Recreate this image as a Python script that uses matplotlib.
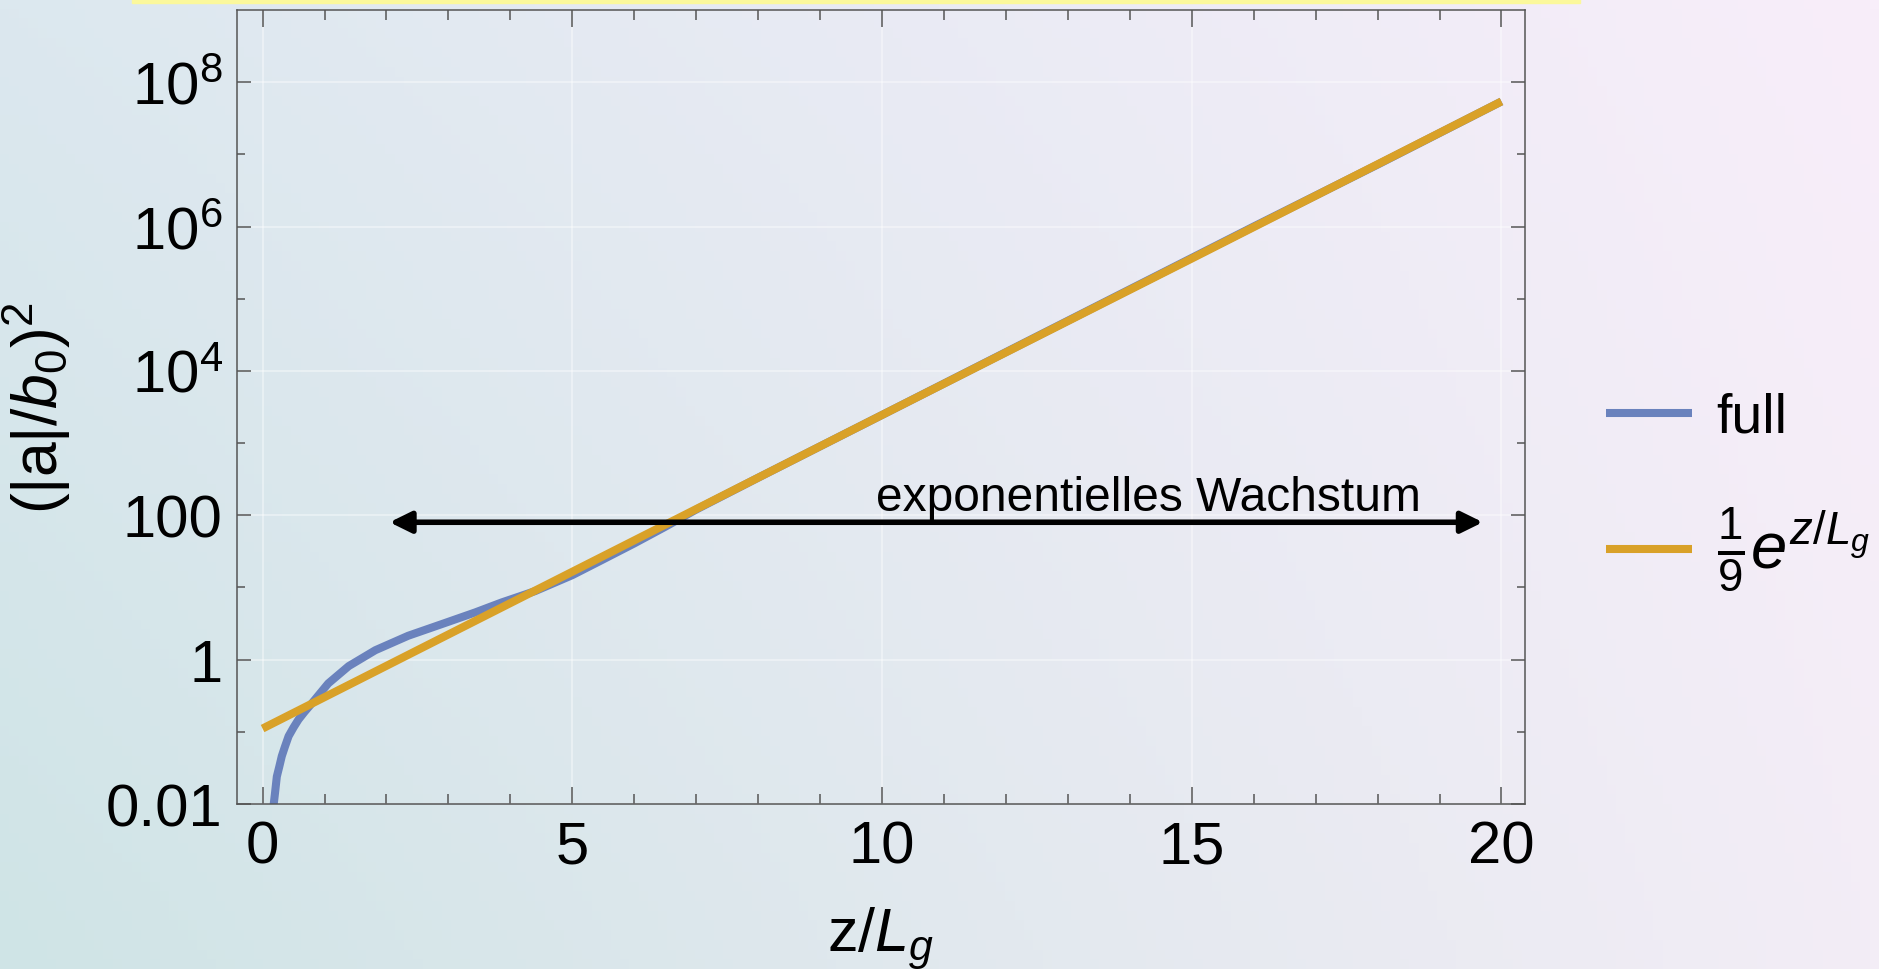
import numpy as np
import matplotlib
matplotlib.use("Agg")
from matplotlib import pyplot as plt
from matplotlib.patches import Rectangle
from matplotlib.ticker import FixedLocator, FixedFormatter

# data
full_z = [0.14, 0.18, 0.20, 0.23, 0.27, 0.31, 0.36, 0.42, 0.50, 0.58, 0.68, 0.80,
          1.06, 1.39, 1.82, 2.35, 2.89, 3.43, 3.86, 4.40, 5.0, 5.5, 6.0, 6.5, 7.0,
          8.0, 10.0, 12.0, 14.0, 16.0, 18.0, 20.0]
full_val = [0.004, 0.010, 0.014, 0.024, 0.033, 0.046, 0.062, 0.087, 0.115, 0.148,
            0.19, 0.251, 0.468, 0.813, 1.35, 2.14, 3.1, 4.5, 6.2, 8.9, 14.8, 24.5,
            40.7, 69.2, 120, 331, 2450, 1.82e4, 1.35e5, 1.0e6, 7.2e6, 5.4e7]

approx_z = [0, 5, 10, 15, 20]
approx_val = [0.111, 16.5, 2450, 3.6e5, 5.4e7]

x_major = [0, 5, 10, 15, 20]
x_labels = ["0", "5", "10", "15", "20"]
y_major = [1e-2, 1, 1e2, 1e4, 1e6, 1e8]
y_labels = ["0.01", "1", "100", "$10^4$", "$10^6$", "$10^8$"]
y_minor = [1e-1, 1e1, 1e3, 1e5, 1e7]

arrow_z = [2.05, 19.7]
arrow_level = 80
note_text = "exponentielles Wachstum"
note_pos = (14.3, 118)

# style
blue = "#6a82bd"
orange = "#d9a128"
plt.rcParams["font.family"] = ["Liberation Sans", "DejaVu Sans"]
plt.rcParams["mathtext.fontset"] = "custom"
plt.rcParams["mathtext.rm"] = "Liberation Sans"
plt.rcParams["mathtext.it"] = "Liberation Sans:italic"
plt.rcParams["mathtext.bf"] = "Liberation Sans:bold"

fig = plt.figure(figsize=(18.79, 9.70), dpi=100)

# background gradient (teal bottom-left -> pink top-right)
bg = fig.add_axes([0, 0, 1, 1], zorder=0)
tl = np.array([0xdc, 0xe8, 0xef]) / 255
bl = np.array([0xcf, 0xe4, 0xe6]) / 255
tr = np.array([0xf8, 0xee, 0xfa]) / 255
br = np.array([0xf3, 0xed, 0xf6]) / 255
u = np.linspace(0, 1, 200)[None, :, None]
v = np.linspace(0, 1, 100)[:, None, None]
grad = (1 - v) * ((1 - u) * tl + u * tr) + v * ((1 - u) * bl + u * br)
bg.imshow(grad, aspect="auto", extent=[0, 1, 0, 1])
bg.axis("off")

# yellow strip at the top edge
fig.patches.append(Rectangle((132 / 1879, 1 - 4 / 970), (1580 - 132) / 1879, 4 / 970,
                             transform=fig.transFigure, color="#fbf89c", zorder=1))

ax = fig.add_axes([0.1259, 0.1701, 0.6857, 0.8186], zorder=2)
ax.set_facecolor("none")

ax.plot(full_z, full_val, color=blue, lw=5.8, label="full", solid_capstyle="butt")
ax.plot(approx_z, approx_val, color=orange, lw=5.8, label=r"$\frac{1}{9}e^{z/L_g}$",
        solid_capstyle="butt")

ax.set_yscale("log")
ax.set_xlim(-0.42, 20.38)
ax.set_ylim(1e-2, 1e9)

ax.xaxis.set_major_locator(FixedLocator(x_major))
ax.xaxis.set_major_formatter(FixedFormatter(x_labels))
ax.xaxis.set_minor_locator(FixedLocator(range(0, 21)))
ax.yaxis.set_major_locator(FixedLocator(y_major))
ax.yaxis.set_major_formatter(FixedFormatter(y_labels))
ax.yaxis.set_minor_locator(FixedLocator(y_minor))
ax.yaxis.set_minor_formatter(FixedFormatter([""] * len(y_minor)))

ax.tick_params(which="both", direction="in", top=True, right=True,
               colors="#555555", labelcolor="black", labelsize=43, width=1.1)
ax.tick_params(axis="x", which="major", length=12, pad=11)
ax.tick_params(axis="x", which="minor", length=7.5)
ax.tick_params(axis="y", which="major", length=10, pad=10)
ax.tick_params(axis="y", which="minor", length=6)
for s in ax.spines.values():
  s.set_color("#555555")
  s.set_linewidth(1.1)

ax.grid(which="major", color="white", alpha=0.45, lw=1.2)
ax.set_axisbelow(True)

ax.set_xlabel("z/$L_g$", fontsize=44, labelpad=22)
ax.set_ylabel(r"$(|\mathrm{a}|/b_0)^2$", fontsize=45, labelpad=24)

# arrow + annotation
ax.annotate("", xy=(arrow_z[0], arrow_level), xytext=(arrow_z[1], arrow_level),
            arrowprops=dict(arrowstyle="<|-|>,head_length=0.65,head_width=0.32",
                            lw=4, color="black", mutation_scale=20,
                            shrinkA=0, shrinkB=0))
ax.text(note_pos[0], note_pos[1], note_text, fontsize=34.5, ha="center", va="baseline")

leg = ax.legend(loc="center left", bbox_to_anchor=(1.041, 0.392), frameon=False,
                fontsize=40, handlelength=1.55, handletextpad=0.45, labelspacing=1.1,
                borderpad=0)
leg.get_texts()[1].set_fontsize(47)

fig.savefig("out.png", dpi=100)
